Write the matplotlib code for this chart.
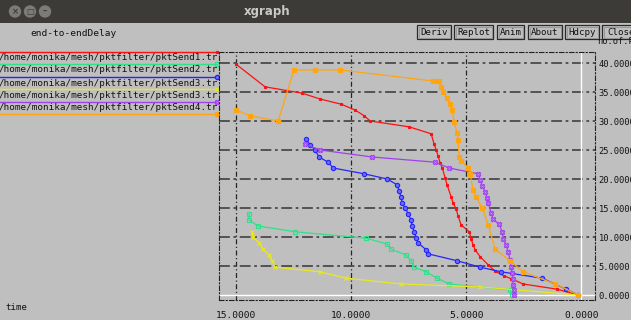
import matplotlib
matplotlib.use("Agg")
import matplotlib.pyplot as plt
from matplotlib.patches import Rectangle, Circle

# ---- data: time (x) vs. number of packets (y) for each trace file ----
red_x = [15.0, 13.74, 12.13, 11.35, 10.43, 9.83, 9.43, 9.17, 7.48, 6.52, 6.39, 6.30,
         6.22, 6.13, 6.04, 5.91, 5.83, 5.65, 5.57, 5.43, 5.35, 5.22, 4.87, 4.78, 4.70,
         4.61, 4.39, 4.04, 3.74, 3.35, 3.04, 2.52, 1.04, 0.13]
red_y = [39.8, 35.9, 34.8, 33.8, 32.9, 31.9, 30.9, 30.0, 29.0, 27.8, 26.0, 25.0,
         24.0, 22.8, 21.9, 20.2, 19.0, 16.9, 15.9, 14.8, 13.6, 12.1, 10.9, 9.7, 8.6,
         7.8, 6.6, 5.2, 4.1, 3.3, 2.8, 1.9, 1.0, 0.0]

green_x = [14.43, 14.43, 14.04, 12.43, 9.35, 8.43, 8.26, 7.61, 7.39, 7.26, 6.74,
           6.26, 5.74, 3.09, 3.0]
green_y = [14.0, 12.9, 11.9, 10.9, 9.8, 8.8, 7.9, 6.9, 5.9, 4.8, 4.0, 2.9, 1.9, 0.9, 0.0]

blue_x = [11.96, 11.78, 11.57, 11.39, 11.0, 10.78, 9.43, 8.43, 8.0, 7.91, 7.83, 7.78,
          7.65, 7.52, 7.39, 7.35, 7.26, 7.17, 7.09, 6.74, 6.65, 5.39, 4.39, 3.48,
          1.70, 0.65, 0.13]
blue_y = [26.9, 25.9, 25.0, 23.8, 22.9, 21.9, 20.9, 20.0, 19.0, 17.9, 16.9, 15.9,
          15.0, 14.0, 12.9, 11.9, 10.9, 9.8, 9.0, 7.8, 7.1, 5.9, 4.8, 4.0, 2.9, 1.0, 0.0]

yellow_x = [14.30, 14.26, 14.0, 13.83, 13.57, 13.43, 13.30, 11.35, 10.22, 7.83, 4.39, 0.13]
yellow_y = [10.9, 10.0, 9.0, 7.9, 6.9, 5.9, 4.8, 4.0, 2.9, 1.9, 1.4, 0.0]

purple_x = [12.0, 11.35, 9.09, 6.35, 5.74, 4.48, 4.39, 4.30, 4.17, 4.09, 4.04, 3.91,
            3.83, 3.57, 3.43, 3.39, 3.26, 3.17, 3.09, 3.04, 3.0, 2.96, 2.96, 2.91, 2.91]
purple_y = [26.0, 25.0, 23.8, 22.9, 21.9, 20.9, 19.8, 18.8, 17.8, 16.7, 15.9, 14.1,
            13.1, 12.2, 10.9, 9.7, 8.6, 7.4, 6.0, 4.8, 3.8, 2.8, 1.7, 0.9, 0.0]

orange_x = [15.0, 14.39, 13.17, 12.48, 11.57, 10.48, 6.43, 6.26, 6.17, 6.09, 6.0, 5.83,
            5.70, 5.61, 5.52, 5.39, 5.35, 5.30, 5.22, 4.91, 4.83, 4.70, 4.57, 4.30,
            4.04, 3.74, 3.09, 2.52, 1.13, 0.13]
orange_y = [31.9, 30.9, 30.0, 38.8, 38.8, 38.8, 36.9, 36.9, 36.9, 35.9, 35.0, 34.0,
            32.9, 31.9, 29.8, 27.9, 26.7, 23.8, 23.1, 21.9, 20.9, 18.1, 16.9, 15.0,
            12.1, 7.9, 5.9, 4.0, 1.9, 0.0]

legend_labels = ["/home/monika/mesh/pktfilter/pktSend1.tr",
                 "/home/monika/mesh/pktfilter/pktSend2.tr",
                 "/home/monika/mesh/pktfilter/pktSend3.tr",
                 "/home/monika/mesh/pktfilter/pktSend3.tr",
                 "/home/monika/mesh/pktfilter/pktSend4.tr"]

x_ticks = [0, 5, 10, 15]
x_tick_labels = ["0.0000", "5.0000", "10.0000", "15.0000"]
y_ticks = [0, 5, 10, 15, 20, 25, 30, 35, 40]
y_tick_labels = ["0.0000", "5.0000", "10.0000", "15.0000", "20.0000",
                 "25.0000", "30.0000", "35.0000", "40.0000"]

buttons = ["Deriv", "Replot", "Anim", "About", "Hdcpy", "Close"]

# ---- styling ----
BG = "#bfbfbf"
MONO = "DejaVu Sans Mono"
W, H = 631, 320

series = [
    (red_x, red_y, "#ff1010", "s", "#ff1010", 2.0),
    (green_x, green_y, "#30e08a", "s", "none", 2.9),
    (blue_x, blue_y, "#2424ff", "o", "#6a6aff", 3.1),
    (yellow_x, yellow_y, "#e8e820", "x", "#e8e820", 3.0),
    (purple_x, purple_y, "#a040f0", "X", "#c890ff", 3.2),
    (orange_x, orange_y, "#ffa510", "s", "#ffa510", 2.8),
]

fig = plt.figure(figsize=(W / 100, H / 100), dpi=100)
fig.patch.set_facecolor(BG)

# full-window overlay in pixel units for the window chrome and legend
bg = fig.add_axes([0, 0, 1, 1])
bg.set_xlim(0, W)
bg.set_ylim(H, 0)
bg.axis("off")
bg.set_facecolor(BG)

# title bar
bg.add_patch(Rectangle((0, 0), W, 23, color="#3c3b37", lw=0))
bg.text(267, 11.5, "xgraph", color="#c9c9c6", fontsize=8.5, fontweight="bold",
        ha="center", va="center", family="DejaVu Sans")
for cx, sym in zip([15, 30, 45], ["×", "□", "–"]):
    bg.add_patch(Circle((cx, 11.5), 6.2, color="#7c7b77", lw=0))
    bg.text(cx, 11.8, sym, color="#3c3b37", fontsize=6, ha="center", va="center",
            fontweight="bold", family="DejaVu Sans")

# control buttons
btn_edges = [(417, 451), (454, 493), (497, 524), (528, 562), (565, 599), (602, 640)]
for (x0, x1), name in zip(btn_edges, buttons):
    bg.add_patch(Rectangle((x0, 25), x1 - x0, 14, fill=False, ec="#2a2a2a", lw=0.9))
    bg.add_patch(Rectangle((x0 + 1.5, 26.5), x1 - x0 - 3, 11, fill=False,
                           ec="#8a8a8a", lw=0.5))
    bg.text((x0 + x1) / 2, 32.2, name, fontsize=6.6, family=MONO,
            ha="center", va="center", color="#111111")

bg.text(30, 34, "end-to-endDelay", fontsize=6.8, family=MONO, ha="left",
        va="center", color="#111111")
bg.text(597, 42, "no.of.Pkts", fontsize=6.2, family=MONO, ha="left",
        va="center", color="#111111")
bg.text(5, 307, "time", fontsize=6.6, family=MONO, ha="left",
        va="center", color="#111111")

# legend: a sample line per data set with its file name beneath
line_rows = [52, 64, 77, 89, 102, 114]
for (xs, ys, col, mk, mfc, ms), yy in zip(series, line_rows):
    bg.plot([0, 217], [yy, yy], color=col, lw=1.0)
    bg.plot([217], [yy], marker=mk, color=col, mfc=mfc, mec=col, ms=ms,
            mew=0.9)
for lab, yy in zip(legend_labels, [57.5, 70, 83, 95.5, 108]):
    bg.text(218, yy, lab, fontsize=6.7, family=MONO, ha="right", va="center",
            color="#111111")

# main plot area
ax = fig.add_axes([219 / W, (H - 300) / H, (595 - 219) / W, (300 - 52) / H])
ax.set_facecolor(BG)
ax.set_xlim(15.74, -0.6)
ax.set_ylim(-0.86, 41.9)

for s in ax.spines.values():
    s.set_linestyle((0, (4, 2, 1, 2)))
    s.set_color("#222222")
    s.set_linewidth(0.8)

for v in x_ticks[1:]:
    ax.axvline(v, color="#262626", lw=0.9, ls=(0, (4, 2, 1, 2)), zorder=1)
for v in y_ticks[1:]:
    ax.axhline(v, color="#4a4a4a", lw=1.3, ls=(0, (6, 2, 1.5, 2)), zorder=1)
ax.axvline(0, color="white", lw=1.0, zorder=1)
ax.axhline(0, color="white", lw=1.0, zorder=1)

for xs, ys, col, mk, mfc, ms in series:
    ax.plot(xs, ys, color=col, lw=0.9, marker=mk, ms=ms, mfc=mfc, mec=col,
            mew=0.8, zorder=3)

ax.set_xticks(x_ticks)
ax.set_xticklabels(x_tick_labels, family=MONO, fontsize=6.8)
ax.yaxis.tick_right()
ax.set_yticks(y_ticks)
ax.set_yticklabels(y_tick_labels, family=MONO, fontsize=6.3)
ax.tick_params(axis="x", length=0, pad=8, colors="#111111")
ax.tick_params(axis="y", length=0, pad=2.5, colors="#111111")

fig.savefig("out.png", dpi=100, facecolor=BG)
